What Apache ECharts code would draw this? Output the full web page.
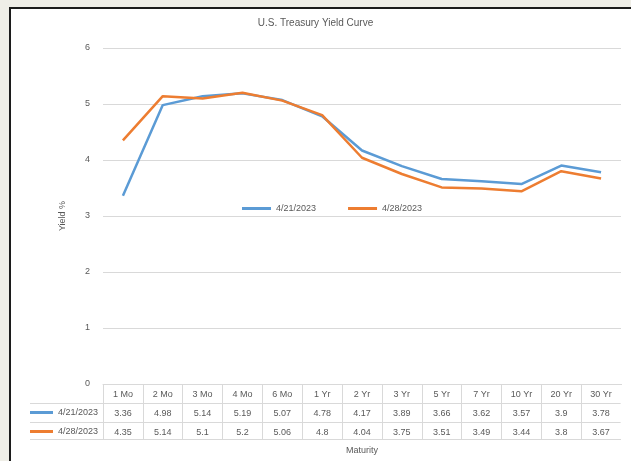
<!DOCTYPE html>
<html>
<head>
<meta charset="utf-8">
<script src="https://cdn.jsdelivr.net/npm/echarts@6/dist/echarts.min.js"></script>
<style>
  html, body { margin: 0; padding: 0; background: #efeee7; }
  #main { width: 631px; height: 461px; }
</style>
</head>
<body>
<div id="main"></div>
<script>
(function(){
    var maturities = ['1 Mo','2 Mo','3 Mo','4 Mo','6 Mo','1 Yr','2 Yr','3 Yr','5 Yr','7 Yr','10 Yr','20 Yr','30 Yr'];
    var seriesNames = ['4/21/2023', '4/28/2023'];
    var yields0421 = [3.36, 4.98, 5.14, 5.19, 5.07, 4.78, 4.17, 3.89, 3.66, 3.62, 3.57, 3.9, 3.78];
    var yields0428 = [4.35, 5.14, 5.1, 5.2, 5.06, 4.8, 4.04, 3.75, 3.51, 3.49, 3.44, 3.8, 3.67];
    var yTicks = [0, 6, 1]; // min, max, interval

    var grey = '#595959', lineGrey = '#d9d9d9';
    var font = 'Liberation Sans';
    var colors = ['#5b9bd5', '#ed7d31'];

    var mycharts = echarts.init(document.getElementById('main'));

    // extra x axes that act as the rows of the data table
    function tableRow(values, offset, extra) {
        var ax = {
            type: 'category',
            data: maturities,
            position: 'bottom',
            offset: offset,
            axisLine: { show: true, lineStyle: { color: lineGrey, width: 1 } },
            axisTick: { show: false },
            axisLabel: {
                margin: 6,
                color: grey,
                fontSize: 9,
                fontFamily: font,
                interval: 0,
                formatter: function (v, i) { return String(values[i]); }
            },
            splitLine: { show: false }
        };
        return Object.assign(ax, extra || {});
    }

    var option = {
        backgroundColor: '#efeee7',
        color: colors,
        textStyle: { fontFamily: font },
        title: {
            text: 'U.S. Treasury Yield Curve',
            left: 'center',
            top: 13,
            textStyle: { color: grey, fontSize: 10, fontWeight: 'normal', fontFamily: font }
        },
        legend: [
            {
                data: seriesNames,
                left: 237,
                top: 199,
                icon: 'rect',
                itemWidth: 29,
                itemHeight: 3,
                itemGap: 32,
                textStyle: { color: grey, fontSize: 9, fontFamily: font }
            },
            {
                data: [seriesNames[0]],
                left: 25,
                top: 403,
                icon: 'rect',
                itemWidth: 23,
                itemHeight: 3,
                textStyle: { color: grey, fontSize: 9, fontFamily: font }
            },
            {
                data: [seriesNames[1]],
                left: 25,
                top: 422,
                icon: 'rect',
                itemWidth: 23,
                itemHeight: 3,
                textStyle: { color: grey, fontSize: 9, fontFamily: font }
            }
        ],
        grid: { left: 103, right: 10, top: 48, bottom: 77, containLabel: false },
        xAxis: [
            {
                type: 'category',
                data: maturities,
                boundaryGap: true,
                axisLine: { show: true, lineStyle: { color: lineGrey } },
                axisTick: { show: true, alignWithLabel: false, interval: 0, length: 55, lineStyle: { color: lineGrey } },
                axisLabel: { margin: 6, color: grey, fontSize: 9, fontFamily: font, interval: 0 }
            },
            tableRow(yields0421, 19),
            tableRow(yields0428, 38, {
                name: 'Maturity',
                nameLocation: 'middle',
                nameGap: 24,
                nameTextStyle: { color: grey, fontSize: 9, fontFamily: font }
            })
        ],
        yAxis: {
            type: 'value',
            min: yTicks[0],
            max: yTicks[1],
            interval: yTicks[2],
            name: 'Yield %',
            nameLocation: 'middle',
            nameRotate: 90,
            nameGap: 36,
            nameTextStyle: { color: grey, fontSize: 9, fontFamily: font },
            axisLine: { show: false },
            axisTick: { show: false },
            axisLabel: { color: grey, fontSize: 9, fontFamily: font, margin: 13 },
            splitLine: { lineStyle: { color: lineGrey } }
        },
        graphic: [
            // white panel with dark frame
            { type: 'rect', z: -100, shape: { x: 10, y: 8, width: 640, height: 470 },
              style: { fill: '#ffffff', stroke: '#1c1c1c', lineWidth: 2 } },
            // left extension of the table row lines
            { type: 'line', shape: { x1: 30, y1: 403.5, x2: 103, y2: 403.5 }, style: { stroke: lineGrey } },
            { type: 'line', shape: { x1: 30, y1: 422.5, x2: 103, y2: 422.5 }, style: { stroke: lineGrey } },
            { type: 'line', shape: { x1: 30, y1: 439.5, x2: 621, y2: 439.5 }, style: { stroke: lineGrey } },
            // the table has no closing border on the right
            { type: 'rect', z: 100, shape: { x: 620.6, y: 385, width: 2, height: 54 }, style: { fill: '#ffffff' } }
        ],
        series: [
            {
                name: seriesNames[0],
                type: 'line',
                data: yields0421,
                symbol: 'none',
                lineStyle: { width: 2.5 }
            },
            {
                name: seriesNames[1],
                type: 'line',
                data: yields0428,
                symbol: 'none',
                lineStyle: { width: 2.5 }
            }
        ]
    };
    mycharts.setOption(option);
})();
</script>
</body>
</html>
